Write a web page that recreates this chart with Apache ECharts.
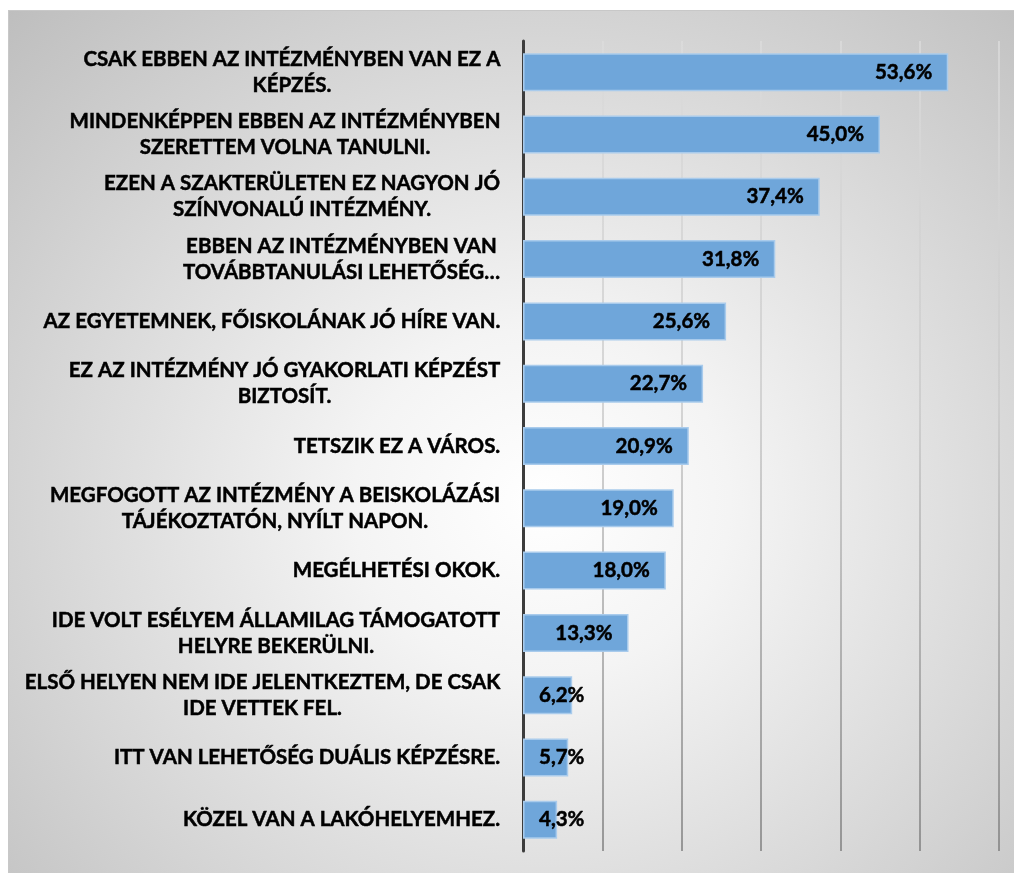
<!DOCTYPE html>
<html>
<head>
<meta charset="utf-8">
<script src="https://cdn.jsdelivr.net/npm/echarts@6/dist/echarts.min.js"></script>
<style>
  html, body { margin: 0; padding: 0; background: #fff; }
  #myChart {
    position: absolute;
    left: 8px; top: 10px;
    width: 1006px; height: 863px;
    background: radial-gradient(ellipse farthest-corner at 53% 57%, #ffffff 0%, #f4f4f4 25%, #bebebe 100%);
    border-left: 1px solid #c8c8c8;
    border-top: 1px solid #c8c8c8;
    box-sizing: border-box;
  }
</style>
</head>
<body>
<div id="myChart"></div>
<script>
// kategóriák (felülről lefelé)
var categories = [
  'CSAK EBBEN AZ INTÉZMÉNYBEN VAN EZ A\nKÉPZÉS.',
  'MINDENKÉPPEN EBBEN AZ INTÉZMÉNYBEN\nSZERETTEM VOLNA TANULNI.',
  'EZEN A SZAKTERÜLETEN EZ NAGYON JÓ\nSZÍNVONALÚ INTÉZMÉNY.',
  'EBBEN AZ INTÉZMÉNYBEN VAN\nTOVÁBBTANULÁSI LEHETŐSÉG…',
  'AZ EGYETEMNEK, FŐISKOLÁNAK JÓ HÍRE VAN.',
  'EZ AZ INTÉZMÉNY JÓ GYAKORLATI KÉPZÉST\nBIZTOSÍT.',
  'TETSZIK EZ A VÁROS.',
  'MEGFOGOTT AZ INTÉZMÉNY A BEISKOLÁZÁSI\nTÁJÉKOZTATÓN, NYÍLT NAPON.',
  'MEGÉLHETÉSI OKOK.',
  'IDE VOLT ESÉLYEM ÁLLAMILAG TÁMOGATOTT\nHELYRE BEKERÜLNI.',
  'ELSŐ HELYEN NEM IDE JELENTKEZTEM, DE CSAK\nIDE VETTEK FEL.',
  'ITT VAN LEHETŐSÉG DUÁLIS KÉPZÉSRE.',
  'KÖZEL VAN A LAKÓHELYEMHEZ.'
]
var values = [53.6, 45.0, 37.4, 31.8, 25.6, 22.7, 20.9, 19.0, 18.0, 13.3, 6.2, 5.7, 4.3]
var axisMax = 60
var axisStep = 10

var fontSize = 20.5
var ctx = document.createElement('canvas').getContext('2d')
ctx.font = 'bold ' + fontSize + 'px Lato'

// minden címkének saját rich stílus: a sorok középre, a blokk jobbra a tengelyhez
var rich = {}
categories.forEach(function (c, i) {
  var w = 0
  c.split('\n').forEach(function (l) { w = Math.max(w, ctx.measureText(l).width) })
  rich['l' + i] = {
    width: Math.ceil(w) + 1,
    align: 'center',
    fontFamily: 'Lato',
    fontWeight: 'bold',
    fontSize: fontSize,
    lineHeight: 26,
    color: '#000',
    textBorderColor: '#000',
    textBorderWidth: 0.5
  }
})

var barData = values.map(function (v) {
  // rövid oszlopnál a címke belül kezdődik
  if (v < 10) {
    return { value: v, label: { position: 'insideLeft', distance: 16 } }
  }
  return v
})

var myChart = echarts.init(document.getElementById('myChart'))
myChart.setOption({
  animation: false,
  grid: { left: 514, top: 30, right: 15, bottom: 22, containLabel: false },
  xAxis: {
    type: 'value',
    min: 0,
    max: axisMax,
    interval: axisStep,
    axisLine: { show: false },
    axisTick: { show: false },
    axisLabel: { show: false },
    splitLine: {
      show: true,
      lineStyle: {
        width: 1.5,
        color: new echarts.graphic.LinearGradient(0, 30, 0, 841, [
          { offset: 0, color: '#dcdcdc' },
          { offset: 0.45, color: '#c9c9c9' },
          { offset: 1, color: '#7e7e7e' }
        ], true)
      }
    }
  },
  yAxis: {
    type: 'category',
    inverse: true,
    data: categories,
    axisLine: { show: true, lineStyle: { color: '#3c3c3c', width: 3 } },
    axisTick: { show: false },
    axisLabel: {
      margin: 22,
      align: 'right',
      rich: rich,
      formatter: function (value, index) {
        return value.split('\n').map(function (l) {
          return '{l' + index + '|' + l + '}'
        }).join('\n')
      }
    }
  },
  series: [{
    type: 'bar',
    data: barData,
    barCategoryGap: '39%',
    itemStyle: { color: '#6fa6da', borderColor: '#a9cbec', borderWidth: 1.5 },
    label: {
      show: true,
      position: 'insideRight',
      distance: 16,
      fontFamily: 'Lato',
      fontWeight: 'bold',
      fontSize: fontSize,
      color: '#000',
      textBorderColor: '#000',
      textBorderWidth: 0.5,
      formatter: function (p) { return p.value.toFixed(1).replace('.', ',') + '%' }
    }
  }]
})
</script>
</body>
</html>
